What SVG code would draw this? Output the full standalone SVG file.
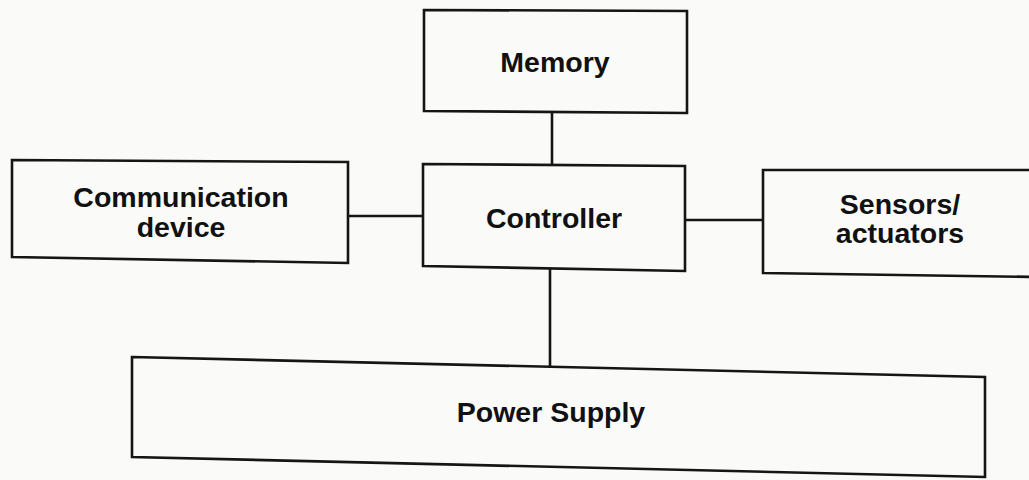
<svg xmlns="http://www.w3.org/2000/svg" width="1029" height="480" viewBox="0 0 1029 480">
<style>
.box{fill:none;stroke:#151515;stroke-width:2.6;stroke-linejoin:miter}
.wire{stroke:#151515;stroke-width:2.6;fill:none}
.lbl{font-family:"Liberation Sans",Arial,sans-serif;font-weight:bold;font-size:28.5px;fill:#111;text-anchor:middle}
</style>
<rect width="1029" height="480" fill="#fafaf8"/>
<g id="connectors">
<line class="wire" x1="552" y1="112" x2="552" y2="165"/>
<line class="wire" x1="348" y1="216" x2="423" y2="216"/>
<line class="wire" x1="685" y1="220" x2="763" y2="220"/>
<line class="wire" x1="550" y1="268" x2="550" y2="368"/>
</g>
<g id="memory">
<polygon class="box" points="424,10 687,11 687,113 424,111"/>
<text class="lbl" x="555" y="72">Memory</text>
</g>
<g id="communication">
<polygon class="box" points="12,160 348,162 348,263 12,257"/>
<text class="lbl" x="181" y="207">Communication</text>
<text class="lbl" x="181" y="237">device</text>
</g>
<g id="controller">
<polygon class="box" points="423,164 685,166 685,271 423,266"/>
<text class="lbl" x="554" y="228">Controller</text>
</g>
<g id="sensors">
<polygon class="box" points="1040,170 763,170 763,273 1040,277"/>
<text class="lbl" x="900" y="214">Sensors/</text>
<text class="lbl" x="900" y="243">actuators</text>
</g>
<g id="power">
<polygon class="box" points="132,357 985,377 985,477 132,457"/>
<text class="lbl" x="551" y="422">Power Supply</text>
</g>
</svg>
